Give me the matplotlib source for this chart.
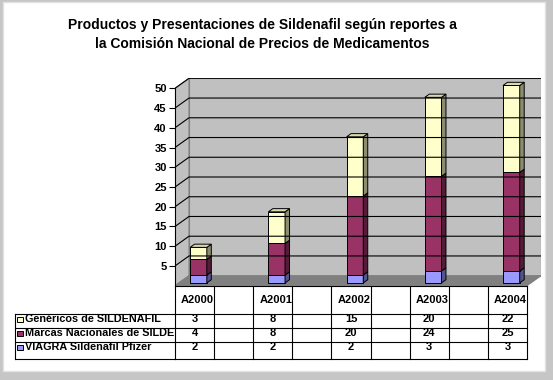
import matplotlib.pyplot as plt
import matplotlib.transforms as mtransforms
from matplotlib.patches import Polygon, Rectangle

plt.rcParams['font.family'] = ['Liberation Sans', 'DejaVu Sans']

title_lines = ["Productos y Presentaciones de Sildenafil según reportes a",
               "la Comisión Nacional de Precios de Medicamentos"]
categories = ['A2000', '', 'A2001', '', 'A2002', '', 'A2003', '', 'A2004']
series_names = ['Genéricos de SILDENAFIL', 'Marcas Nacionales de SILDENAFIL',
                'VIAGRA Sildenafil Pfizer']
genericos = [3, None, 8, None, 15, None, 20, None, 22]
marcas = [4, None, 8, None, 20, None, 24, None, 25]
viagra = [2, None, 2, None, 2, None, 3, None, 3]
colors = ['#ffffcc', '#993366', '#9999ff']
yticks = [5, 10, 15, 20, 25, 30, 35, 40, 45, 50]


def shade(c, k):
    r, g, b = [int(c[i:i + 2], 16) / 255 for i in (1, 3, 5)]
    return (r * k, g * k, b * k)


W, H = 553, 380
fig = plt.figure(figsize=(W / 100, H / 100), dpi=100, facecolor='#c6c6c6')

# background axes in pixel coords
bg = fig.add_axes([0, 0, 1, 1])
bg.set_xlim(0, W)
bg.set_ylim(H, 0)
bg.axis('off')
bg.add_patch(Rectangle((3, 2), 542, 369, facecolor='white', edgecolor='#e2e2e2', lw=1))

bg.text(262, 25, title_lines[0], ha='center', va='center', fontsize=10, fontweight='bold')
bg.text(262, 44, title_lines[1], ha='center', va='center', fontsize=10, fontweight='bold')

# chart axes
PX = 352 / 9      # px per category
PY = 197.4 / 50   # px per unit
left, right, top, bottom = 175, 541, 78, 285.7
ax = fig.add_axes([left / W, (H - bottom) / H, (right - left) / W, (bottom - top) / H])
ax.set_xlim(-0.5, -0.5 + (right - left) / PX)
ax.set_ylim(0, (bottom - top) / PY)
ax.patch.set_visible(False)
DX, DY = 14 / PX, 10 / PY
n = len(categories)
xl, xr = -0.5, n - 0.5

# walls and floor
ax.add_patch(Polygon([(xl + DX, DY), (xr + DX, DY), (xr + DX, 50 + DY), (xl + DX, 50 + DY)],
                     facecolor='#c0c0c0', edgecolor='#808080', lw=0.8))
ax.add_patch(Polygon([(xl, 0), (xl + DX, DY), (xl + DX, 50 + DY), (xl, 50)],
                     facecolor='#c0c0c0', edgecolor='#808080', lw=0.8))
ax.add_patch(Polygon([(xl, 0), (xr, 0), (xr + DX, DY), (xl + DX, DY)],
                     facecolor='#808080', edgecolor='#808080', lw=0.8))
for v in yticks:
    ax.plot([xl, xl + DX, xr + DX], [v, v + DY, v + DY], color='black', lw=0.8)

# axes lines and ticks
for s in ['top', 'right']:
    ax.spines[s].set_visible(False)
ax.spines['left'].set_bounds(0, 50)
ax.spines['bottom'].set_bounds(xl, xr)
ax.spines['left'].set_linewidth(0.8)
ax.spines['bottom'].set_linewidth(0.8)
ax.set_xticks([])
ax.set_yticks(yticks)
ax.tick_params(axis='y', direction='out', length=4, width=0.8, pad=2, labelsize=8)
for lab in ax.get_yticklabels():
    lab.set_fontweight('bold')

# bars
f, g = 0.28, 0.32
w = 16.7 / PX
bdx, bdy = g * DX, g * DY
for i in range(n):
    if viagra[i] is None:
        continue
    x0 = i - w / 2 + f * DX
    y0 = f * DY
    for val, col in [(viagra[i], colors[2]), (marcas[i], colors[1]), (genericos[i], colors[0])]:
        y1 = y0 + val
        ax.add_patch(Rectangle((x0, y0), w, val, facecolor=col, edgecolor='black', lw=0.7))
        ax.add_patch(Polygon([(x0 + w, y0), (x0 + w + bdx, y0 + bdy), (x0 + w + bdx, y1 + bdy), (x0 + w, y1)],
                             facecolor=shade(col, 0.55), edgecolor='black', lw=0.7))
        top_col = col
        y0 = y1
    ax.add_patch(Polygon([(x0, y0), (x0 + bdx, y0 + bdy), (x0 + w + bdx, y0 + bdy), (x0 + w, y0)],
                         facecolor=shade(top_col, 0.85), edgecolor='black', lw=0.7))

# data table
tr = mtransforms.blended_transform_factory(ax.transData, bg.transData)
t_top, rows_y, t_bot = bottom, [314, 328, 342], 359
for k in range(n + 1):
    bg.plot([k - 0.5, k - 0.5], [t_top, t_bot], color='black', lw=0.8, transform=tr, clip_on=False)
for yy in rows_y + [t_bot]:
    bg.plot([xl, xr], [yy, yy], color='black', lw=0.8, transform=tr, clip_on=False)
    bg.plot([15, left], [yy, yy], color='black', lw=0.8)
bg.plot([15, 15], [rows_y[0], t_bot], color='black', lw=0.8)

for i, cat in enumerate(categories):
    bg.text(i + 0.08, 300, cat, transform=tr, ha='center', va='center', fontsize=8, fontweight='bold')

table_rows = [genericos, marcas, viagra]
clip = Rectangle((15, rows_y[0]), left - 15 - 1, t_bot - rows_y[0], transform=bg.transData)
for r, (name, vals, col) in enumerate(zip(series_names, table_rows, colors)):
    yc = rows_y[r] + 5.5
    bg.add_patch(Rectangle((17, yc - 3), 5.5, 5.5, facecolor=col, edgecolor='black', lw=0.7))
    t = bg.text(25, yc, name, ha='left', va='center', fontsize=7.8, fontweight='bold')
    t.set_clip_path(clip)
    t.set_clip_on(True)
    for i, v in enumerate(vals):
        if v is not None:
            bg.text(i, yc, str(v), transform=tr, ha='center', va='center', fontsize=8, fontweight='bold')

fig.savefig('out.png', dpi=100, facecolor=fig.get_facecolor())
